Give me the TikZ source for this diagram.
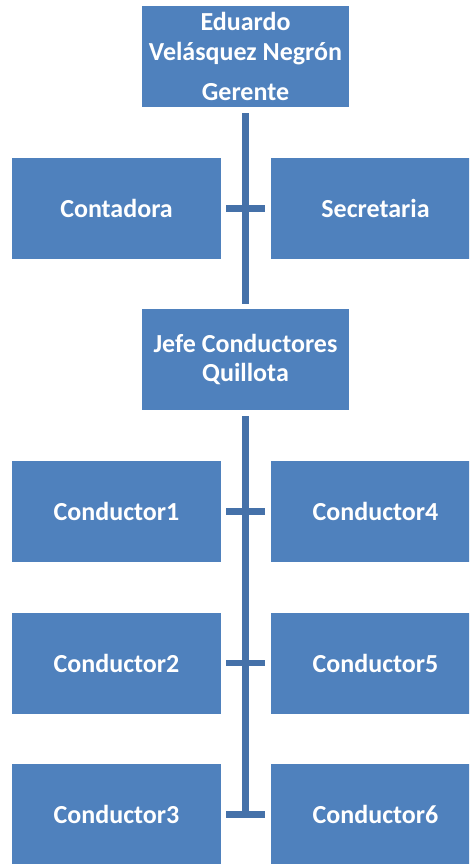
\documentclass[tikz,border=0pt]{standalone}
\usepackage{fontspec}
\setmainfont{Carlito}
\definecolor{boxblue}{HTML}{4F81BD}
\definecolor{lineblue}{HTML}{4571A9}
\tikzset{
  orgbox/.style={fill=boxblue, inner sep=0pt, minimum height=101pt, text=white,
    font=\bfseries\fontsize{26}{28.3}\selectfont, align=center},
  midbox/.style={orgbox, minimum width=207pt},
  sidebox/.style={orgbox, minimum width=209pt},
  conn/.style={draw=lineblue, line width=6.3pt, line cap=butt}
}
\begin{document}
\begin{tikzpicture}[x=1pt,y=-1pt]
\path[use as bounding box, clip] (0,0) rectangle (469,864);
\fill[white] (0,0) rectangle (469,864);
\node[midbox, font=\bfseries\fontsize{26}{29.5}\selectfont] (ger) at (245.5,56.5) {Eduardo\\Velásquez Negrón\\[10.5pt]Gerente};
\node[sidebox] (conta) at (116.5,208.5) {Contadora};
\node[sidebox] (secr) at (375.5,208.5) {Secretaria};
\node[midbox] (jefe) at (245.5,359.5) {Jefe Conductores\\Quillota};
\node[sidebox] (c1) at (116.5,511.5) {Conductor1};
\node[sidebox] (c4) at (375.5,511.5) {Conductor4};
\node[sidebox] (c2) at (116.5,663) {Conductor2};
\node[sidebox] (c5) at (375.5,663) {Conductor5};
\node[sidebox] (c3) at (116.5,814.5) {Conductor3};
\node[sidebox] (c6) at (375.5,814.5) {Conductor6};
\coordinate (tend) at (245.5,817.6);
\draw[conn, shorten <=6pt, shorten >=5pt] (ger) -- (jefe);
\draw[conn, shorten <=6pt] (jefe) -- (tend);
\draw[conn, shorten <=5pt, shorten >=6pt] (conta) -- (secr);
\draw[conn, shorten <=5pt, shorten >=6pt] (c1) -- (c4);
\draw[conn, shorten <=5pt, shorten >=6pt] (c2) -- (c5);
\draw[conn, shorten <=5pt, shorten >=6pt] (c3) -- (c6);
\end{tikzpicture}
\end{document}
